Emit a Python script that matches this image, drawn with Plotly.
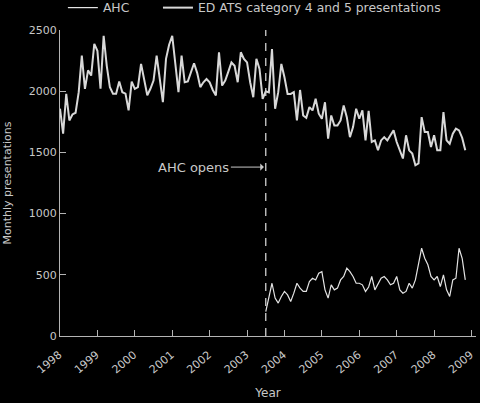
import plotly.graph_objects as go

# ED ATS category 4 and 5 monthly presentations, Jan 1998 - Nov 2008
ed_values = [
    1857, 1653, 1979, 1761, 1810, 1824, 1992, 2290, 2019, 2170, 2128, 2386,
    2330, 2020, 2453, 2207, 2032, 1980, 1980, 2080, 1992, 1980, 1843, 2078,
    2019, 2033, 2223, 2087, 1967, 2020, 2087, 2290, 2100, 1910, 2264, 2380,
    2453, 2208, 1992, 2290, 2073, 2080, 2150, 2228, 2150, 2033, 2073, 2100,
    2073, 2010, 1965, 2318, 2046, 2087, 2160, 2235, 2208, 2073, 2318, 2264,
    2235, 2073, 1951, 2264, 2182, 1938, 2000, 1990, 2345, 1857, 1992, 2223,
    2114, 1978, 1978, 1992, 1761, 2010, 1802, 1783, 1870, 1843, 1938, 1816,
    1775, 1910, 1612, 1802, 1720, 1720, 1761, 1883, 1788, 1625, 1707, 1857,
    1775, 1843, 1598, 1840, 1585, 1598, 1517, 1598, 1625, 1598, 1640, 1680,
    1585, 1510, 1450, 1640, 1517, 1490, 1395, 1410, 1788, 1667, 1667, 1544,
    1640, 1517, 1517, 1829, 1598, 1571, 1653, 1694, 1680, 1620, 1517,
]

# AHC monthly presentations, Jul 2003 - Nov 2008
ahc_values = [
    200, 323, 431, 310, 269, 323, 364, 336, 282, 350, 431, 391,
    364, 364, 445, 472, 458, 513, 526, 377, 310, 418, 377, 391,
    458, 486, 554, 526, 486, 431, 431, 418, 364, 400, 486, 377,
    431, 472, 486, 458, 418, 431, 486, 377, 350, 364, 431, 391,
    458, 595, 717, 635, 582, 486, 458, 486, 404, 500, 377, 323,
    458, 472, 717, 635, 458,
]

ed_start_year = 1998.0
ahc_start_year = 2003.5
ahc_open_year = 2003.5
year_ticks = list(range(1998, 2010))
y_ticks = [0, 500, 1000, 1500, 2000, 2500]

ed_x = [ed_start_year + i / 12 for i in range(len(ed_values))]
ahc_x = [ahc_start_year + i / 12 for i in range(len(ahc_values))]

TEXT = "#c8c8c8"
AXIS = "#b4b4b4"
FONT = "DejaVu Sans"
NBSP = "\u00a0"

fig = go.Figure()
fig.add_trace(go.Scatter(
    x=ahc_x, y=ahc_values, mode="lines", name="AHC" + NBSP * 6,
    line=dict(color="#e4e4e4", width=1.2),
))
fig.add_trace(go.Scatter(
    x=ed_x, y=ed_values, mode="lines", name="ED ATS category 4 and 5 presentations",
    line=dict(color="#d8d8d8", width=2),
))

fig.add_shape(
    type="line", x0=ahc_open_year, x1=ahc_open_year, y0=0, y1=2500,
    xref="x", yref="y", line=dict(color="#d0d0d0", width=1.3, dash="8px,7px"),
)

fig.add_annotation(
    x=ahc_open_year - 0.05, y=1380, xref="x", yref="y",
    text="AHC opens", showarrow=True, ax=-70, ay=0,
    arrowhead=1, arrowsize=1.2, arrowwidth=1, arrowcolor=TEXT,
    font=dict(family=FONT, size=13, color=TEXT),
)

fig.update_layout(
    width=480, height=403,
    paper_bgcolor="black", plot_bgcolor="black",
    margin=dict(l=60, r=4, t=30, b=67, autoexpand=False),
    font=dict(family=FONT, size=11, color=TEXT),
    showlegend=True,
    legend=dict(
        orientation="h", x=0.131, y=0.98, xanchor="left", yanchor="middle",
        xref="container", yref="container",
        font=dict(family=FONT, size=12.4, color=TEXT),
        bgcolor="rgba(0,0,0,0)", traceorder="normal",
    ),
    xaxis=dict(
        range=[1998, 2009.12], tickvals=year_ticks,
        ticktext=[str(y) for y in year_ticks], tickangle=-40,
        showline=True, linecolor=AXIS, linewidth=1.3,
        ticks="inside", ticklen=6, tickcolor=AXIS, tickwidth=1.3,
        showgrid=False, zeroline=False, automargin=False,
        ticklabelshift=-1, ticklabelstandoff=7,
        title=dict(text="Year", font=dict(family=FONT, size=12, color=TEXT), standoff=13),
        tickfont=dict(family=FONT, size=11, color=TEXT),
    ),
    yaxis=dict(
        range=[0, 2500], tickvals=y_ticks,
        showline=True, linecolor=AXIS, linewidth=1.3,
        ticks="inside", ticklen=6, tickcolor=AXIS, tickwidth=1.3,
        showgrid=False, zeroline=False, automargin=False,
        title=dict(text="Monthly presentations", font=dict(family=FONT, size=11, color=TEXT), standoff=14),
        tickfont=dict(family=FONT, size=11, color=TEXT),
    ),
)

fig.write_html(
    "out.html",
    config={"displayModeBar": False},
    post_script="document.body.style.margin='0';document.body.style.background='black';",
)
